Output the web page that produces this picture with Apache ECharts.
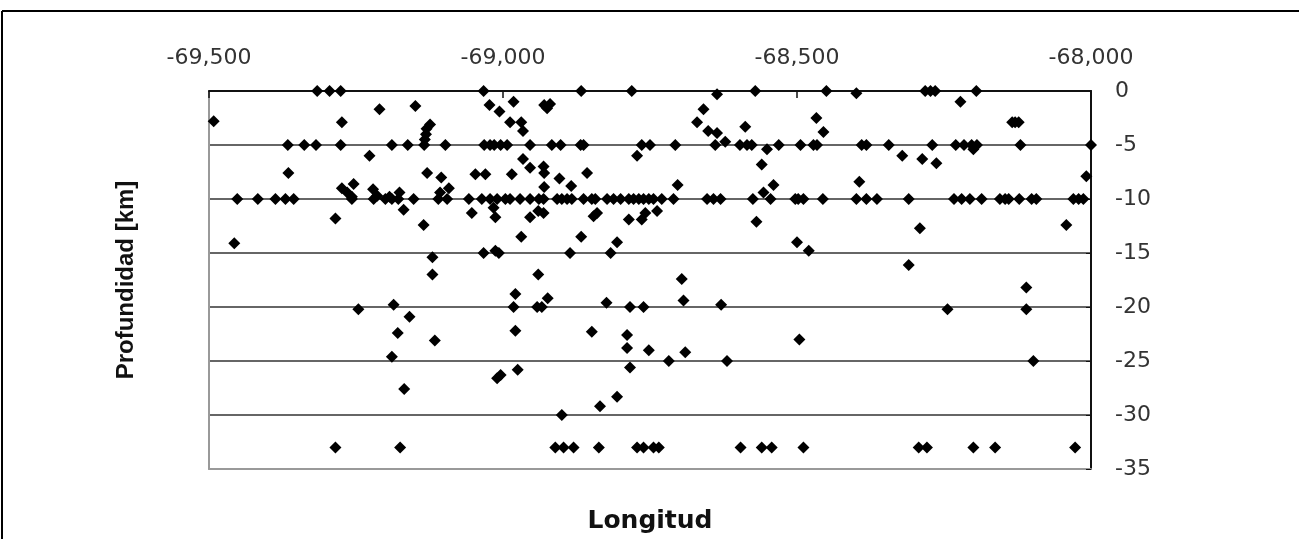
<!DOCTYPE html>
<html>
<head>
<meta charset="utf-8">
<script src="https://cdn.jsdelivr.net/npm/echarts@6/dist/echarts.min.js"></script>
<style>
  html, body { margin: 0; padding: 0; background: #fff; }
  #main { width: 1299px; height: 539px; }
</style>
</head>
<body>
<div id="main"></div>
<script>
// longitud / profundidad de los sismos
var lon = [
  // fila 0 km
  -69.316, -69.295, -69.276, -69.033, -68.867, -68.781, -68.636, -68.571, -68.45, -68.399, -68.282, -68.273, -68.265, -68.195,
  // entre 0 y -5
  -69.492, -69.21, -69.149, -69.023, -69.006, -68.982, -68.93, -68.92, -68.925, -69.274, -69.124, -69.13, -69.131, -69.133,
  -68.988, -68.969, -68.966, -68.659, -68.67, -68.651, -68.636, -68.588, -68.622, -68.222, -68.467, -68.455, -68.134, -68.129, -68.123,
  // fila -5
  -69.366, -69.338, -69.318, -69.276, -69.189, -69.162, -69.134, -69.098, -69.032, -69.022, -69.015, -69.004, -68.993, -68.954,
  -68.917, -68.902, -68.868, -68.863, -68.764, -68.75, -68.707, -68.639, -68.597, -68.585, -68.577, -68.531, -68.494, -68.472,
  -68.466, -68.39, -68.382, -68.344, -68.27, -68.23, -68.216, -68.203, -68.194, -68.12, -68.0,
  // entre -5 y -10
  -69.227, -69.365, -69.129, -69.105, -69.047, -69.03, -69.254, -69.274, -69.265, -69.257, -69.221, -69.214, -69.193, -69.176,
  -69.107, -69.092, -68.551, -68.772, -68.966, -68.954, -68.931, -68.93, -68.56, -68.985, -68.904, -68.857, -68.884, -68.93,
  -68.703, -68.54, -68.557, -68.2, -68.321, -68.287, -68.263, -68.008, -68.394,
  // fila -10
  -69.452, -69.417, -69.387, -69.37, -69.356, -69.257, -69.22, -69.2, -69.189, -69.178, -69.152, -69.11, -69.095, -69.058,
  -69.036, -69.022, -69.01, -68.996, -68.988, -68.971, -68.954, -68.939, -68.931, -68.908, -68.9, -68.891, -68.883, -68.863,
  -68.849, -68.843, -68.823, -68.812, -68.8, -68.786, -68.778, -68.769, -68.761, -68.752, -68.744, -68.73, -68.71, -68.653,
  -68.642, -68.63, -68.575, -68.545, -68.503, -68.498, -68.489, -68.456, -68.399, -68.382, -68.364, -68.31, -68.233, -68.22,
  -68.206, -68.186, -68.155, -68.146, -68.14, -68.122, -68.101, -68.093, -68.03, -68.021, -68.013,
  // bajo -10
  -69.169, -69.016, -69.285, -69.135, -69.053, -69.013, -69.457, -69.033, -69.013, -69.12, -69.12, -69.246, -69.186, -69.159,
  -69.179, -69.116, -69.189, -69.168, -68.954, -68.94, -68.931, -68.846, -68.84, -68.786, -68.764, -68.758, -68.738, -68.569,
  -68.969, -68.867, -68.806, -68.5, -69.007, -68.886, -68.817, -68.94, -68.696, -68.979, -68.924, -68.824, -68.693, -68.982,
  -68.942, -68.934, -68.784, -68.761, -68.629, -68.979, -68.849, -68.789, -68.48, -68.291, -68.042, -68.31, -68.11, -68.244,
  -68.11, -68.789, -68.752, -69.01, -69.004, -68.975, -68.784, -68.806, -68.835, -68.9, -68.718, -68.69, -68.619, -68.496, -68.098,
  // fila -33
  -69.285, -69.175, -68.911, -68.897, -68.88, -68.837, -68.772, -68.761, -68.744, -68.735, -68.596, -68.56, -68.543, -68.489,
  -68.293, -68.279, -68.2, -68.163, -68.027
];
var depth = [
  0, 0, 0, 0, 0, 0, -0.3, 0, 0, -0.2, 0, 0, 0, 0,
  -2.8, -1.7, -1.4, -1.3, -1.9, -1.0, -1.3, -1.2, -1.6, -2.9, -3.1, -3.5, -4.0, -4.5,
  -2.9, -2.9, -3.7, -1.7, -2.9, -3.7, -3.9, -3.3, -4.7, -1.0, -2.5, -3.8, -2.9, -2.9, -2.9,
  -5, -5, -5, -5, -5, -5, -5, -5, -5, -5, -5, -5, -5, -5,
  -5, -5, -5, -5, -5, -5, -5, -5, -5, -5, -5, -5, -5, -5,
  -5, -5, -5, -5, -5, -5, -5, -5, -5, -5, -5,
  -6.0, -7.6, -7.6, -8.0, -7.7, -7.7, -8.6, -9.0, -9.4, -9.8, -9.1, -9.7, -9.8, -9.4,
  -9.4, -9.0, -5.4, -6.0, -6.3, -7.1, -7.0, -7.6, -6.8, -7.7, -8.1, -7.6, -8.8, -8.9,
  -8.7, -8.7, -9.4, -5.4, -6.0, -6.3, -6.7, -7.9, -8.4,
  -10, -10, -10, -10, -10, -10, -10, -10, -10, -10, -10, -10, -10, -10,
  -10, -10, -10, -10, -10, -10, -10, -10, -10, -10, -10, -10, -10, -10,
  -10, -10, -10, -10, -10, -10, -10, -10, -10, -10, -10, -10, -10, -10,
  -10, -10, -10, -10, -10, -10, -10, -10, -10, -10, -10, -10, -10, -10,
  -10, -10, -10, -10, -10, -10, -10, -10, -10, -10, -10,
  -11.0, -10.8, -11.8, -12.4, -11.3, -11.7, -14.1, -15.0, -14.8, -15.4, -17.0, -20.2, -19.8, -20.9,
  -22.4, -23.1, -24.6, -27.6, -11.7, -11.1, -11.3, -11.6, -11.3, -11.9, -11.9, -11.3, -11.1, -12.1,
  -13.5, -13.5, -14.0, -14.0, -15.0, -15.0, -15.0, -17.0, -17.4, -18.8, -19.2, -19.6, -19.4, -20.0,
  -20.0, -20.0, -20.0, -20.0, -19.8, -22.2, -22.3, -22.6, -14.8, -12.7, -12.4, -16.1, -18.2, -20.2,
  -20.2, -23.8, -24.0, -26.6, -26.3, -25.8, -25.6, -28.3, -29.2, -30.0, -25.0, -24.2, -25.0, -23.0, -25.0,
  -33, -33, -33, -33, -33, -33, -33, -33, -33, -33, -33, -33, -33, -33,
  -33, -33, -33, -33, -33
];
var xTicks = ['-69,500', '-69,000', '-68,500', '-68,000'];
var yTicks = ['-35', '-30', '-25', '-20', '-15', '-10', '-5', '0'];

var puntos = lon.map(function (x, i) { return [x, depth[i]]; });

var myChart = echarts.init(document.getElementById('main'));
var option = {
    animation: false,
    backgroundColor: '#fff',
    grid: { left: 209, right: 208, top: 91, bottom: 69 },
    xAxis: [{
        type: 'value',
        position: 'top',
        min: -69.5, max: -68, interval: 0.5,
        axisLine: { show: true, lineStyle: { color: '#111', width: 2 } },
        axisTick: { show: true, inside: true, length: 7, lineStyle: { color: '#111', width: 1.5 } },
        splitLine: { show: false },
        axisLabel: {
            margin: 22, fontSize: 22, fontFamily: 'DejaVu Sans', color: '#333',
            formatter: function (v, i) { return xTicks[i]; }
        }
    }, {
        type: 'value',
        position: 'bottom',
        min: -69.5, max: -68, interval: 0.5,
        axisLine: { show: true, onZero: false, lineStyle: { color: '#999', width: 2 } },
        axisTick: { show: false },
        axisLabel: { show: false },
        splitLine: { show: false },
        name: 'Longitud',
        nameLocation: 'middle',
        nameGap: 40,
        nameTextStyle: { fontSize: 25, fontWeight: 'bold', fontFamily: 'DejaVu Sans', color: '#111' }
    }],
    yAxis: [{
        type: 'value',
        position: 'right',
        min: -35, max: 0, interval: 5,
        axisLine: { show: true, onZero: false, lineStyle: { color: '#111', width: 2 } },
        axisTick: { show: true, inside: true, length: 5, lineStyle: { color: '#111' } },
        splitLine: { show: true, showMinLine: false, lineStyle: { color: '#333', width: 1.6 } },
        axisLabel: {
            margin: 24, fontSize: 22, fontFamily: 'DejaVu Sans', color: '#333', align: 'left',
            formatter: function (v, i) { return yTicks[i]; }
        }
    }, {
        type: 'value',
        position: 'left',
        min: -35, max: 0, interval: 5,
        axisLine: { show: true, onZero: false, lineStyle: { color: '#999', width: 2 } },
        axisTick: { show: false },
        axisLabel: { show: false },
        splitLine: { show: false },
        name: 'Profundidad [km]',
        nameLocation: 'middle',
        nameRotate: 90,
        nameGap: 71,
        nameTextStyle: { fontSize: 24, fontWeight: 'bold', fontFamily: 'Liberation Sans', color: '#111' }
    }],
    graphic: [
        { type: 'line', shape: { x1: 2, y1: 11, x2: 1299, y2: 11 }, style: { stroke: '#000', lineWidth: 2 } },
        { type: 'line', shape: { x1: 2, y1: 11, x2: 2, y2: 539 }, style: { stroke: '#000', lineWidth: 2 } }
    ],
    series: [{
        type: 'scatter',
        xAxisIndex: 0,
        yAxisIndex: 0,
        symbol: 'diamond',
        symbolSize: [12, 12],
        itemStyle: { color: '#000', opacity: 1 },
        data: puntos
    }]
};
myChart.setOption(option);
</script>
</body>
</html>
